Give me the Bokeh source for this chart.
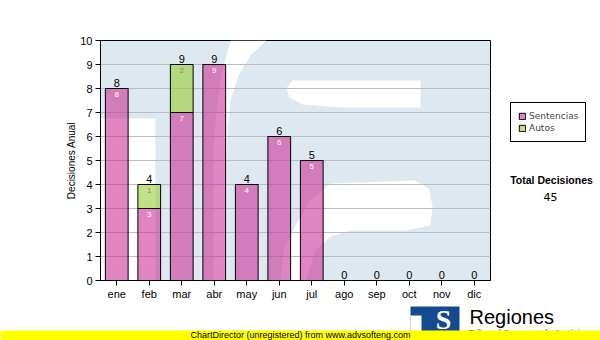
from bokeh.plotting import figure
from bokeh.layouts import row, column
from bokeh.models import (FactorRange, Range1d, SingleIntervalTicker, ColumnDataSource,
                          Legend, LegendItem)
from bokeh.core.properties import value
from bokeh.embed import file_html
from bokeh.resources import INLINE

# ---- data ----
months = ["ene", "feb", "mar", "abr", "may", "jun", "jul", "ago", "sep", "oct", "nov", "dic"]
sentencias = [8, 3, 7, 9, 4, 6, 5, 0, 0, 0, 0, 0]
autos = [0, 1, 2, 0, 0, 0, 0, 0, 0, 0, 0, 0]
series_names = ["Sentencias", "Autos"]
y_max = 10

totals = [s + a for s, a in zip(sentencias, autos)]
grand_total = sum(totals)

PINK = "#cc3399"
GREEN = "#99cc33"
FONT = "Liberation Sans"

# page geometry (px)
FL, FR, FT, FB = 100, 490, 40, 280
MAIN_W, TOP_H, W, H = 500, 302, 600, 340


def deco_fig(w, h, x0, x1, y0, y1):
    f = figure(width=w, height=h, x_range=Range1d(x0, x1), y_range=Range1d(y1, y0),
               output_backend="svg", toolbar_location=None,
               x_axis_location=None, y_axis_location=None, min_border=0)
    f.grid.visible = False
    f.outline_line_color = None
    f.background_fill_color = "white"
    f.border_fill_color = "white"
    return f


# ---------------- main chart ----------------
p = figure(width=MAIN_W, height=TOP_H, x_range=FactorRange(*months), y_range=Range1d(0, y_max),
           output_backend="svg", toolbar_location=None,
           min_border_left=FL, min_border_right=MAIN_W - FR, min_border_top=FT,
           min_border_bottom=TOP_H - FB)
p.background_fill_color = "#dee8f1"
p.border_fill_color = "white"
p.outline_line_color = "black"
p.outline_line_width = 1


def X(px):
    return (px - FL) / ((FR - FL) / len(months))


def Y(py):
    return (FB - py) / ((FB - FT) / y_max)


# watermark (white cut-outs on the light blue background)
shapes = [
    [(100, 118), (155, 118), (155, 280), (100, 280)],
    [(230, 40), (266, 40), (250, 55), (238, 75), (230, 100), (227, 130), (226, 160), (226, 280),
     (213, 280), (213, 150), (216, 110), (221, 75)],
    [(292, 80), (420, 80), (420, 107), (340, 107), (302, 104), (289, 97), (286, 88)],
    [(330, 183), (415, 180), (428, 188), (432, 205), (430, 225), (405, 230), (350, 230), (330, 236),
     (315, 250), (305, 280), (280, 280), (283, 250), (295, 225), (310, 200)],
]
p.patches([[X(a) for a, b in s] for s in shapes], [[Y(b) for a, b in s] for s in shapes],
          fill_color="white", line_color=None, level="image")

src = ColumnDataSource(dict(m=months, s=sentencias, a=autos))
rs = p.vbar_stack(["s", "a"], x="m", width=0.7, source=src,
                  fill_color=[PINK, GREEN], fill_alpha=0.6, line_color="black", line_width=1)

# totals above bars
p.text(x=months, y=totals, text=[str(t) for t in totals], text_align="center",
       text_baseline="bottom", y_offset=-2, text_font=value(FONT),
       text_font_size="11px", text_color="black")

# values inside segments
si = [i for i, v in enumerate(sentencias) if v > 0]
p.text(x=[months[i] for i in si], y=[sentencias[i] for i in si], text=[str(sentencias[i]) for i in si],
       text_align="center", text_baseline="top", y_offset=3, text_font=value(FONT),
       text_font_size="8px", text_color="white")
ai = [i for i, v in enumerate(autos) if v > 0]
p.text(x=[months[i] for i in ai], y=[totals[i] for i in ai], text=[str(autos[i]) for i in ai],
       text_align="center", text_baseline="top", y_offset=3, text_font=value(FONT),
       text_font_size="8px", text_color="#8a8a8a")

p.xgrid.visible = False
p.ygrid.grid_line_color = "#bcbcbc"
p.ygrid.grid_line_width = 1
p.yaxis.ticker = SingleIntervalTicker(interval=1)
for ax in (p.xaxis, p.yaxis):
    ax.minor_tick_line_color = None
    ax.major_tick_in = 0
    ax.major_tick_out = 5
    ax.major_tick_line_color = "black"
    ax.axis_line_color = "black"
    ax.major_label_text_font = FONT
    ax.major_label_text_font_size = "11px"
    ax.major_label_text_color = "black"
    ax.major_label_standoff = 3
p.xaxis.major_label_standoff = 2
p.yaxis.axis_label = "Decisiones Anual"
p.yaxis.axis_label_text_font = FONT
p.yaxis.axis_label_text_font_size = "10px"
p.yaxis.axis_label_text_font_style = "normal"
p.yaxis.axis_label_text_color = "black"
p.yaxis.axis_label_standoff = 0

# ---------------- right side: legend + total ----------------
r = deco_fig(W - MAIN_W, TOP_H, MAIN_W, W, 0, TOP_H)
# legend-only renderers (hidden; they only supply the swatch styles)
d1 = r.vbar(x=[550], top=[100], bottom=[90], width=1, fill_color=PINK, fill_alpha=0.6,
            line_color="black", visible=False)
d2 = r.vbar(x=[550], top=[100], bottom=[90], width=1, fill_color=GREEN, fill_alpha=0.6,
            line_color="black", visible=False)
legend = Legend(items=[LegendItem(label=series_names[0], renderers=[d1]),
                       LegendItem(label=series_names[1], renderers=[d2])],
                location=(10, 138), orientation="vertical",
                border_line_color="black", border_line_width=1, border_line_alpha=1.0,
                background_fill_color="white", background_fill_alpha=1.0,
                inactive_fill_alpha=0.0,
                label_text_font="DejaVu Sans", label_text_font_size="9px",
                glyph_width=8, glyph_height=8, label_standoff=3, padding=7, spacing=0,
                label_height=12, margin=0)
r.add_layout(legend)
r.text(x=[551], y=[183.5], text=["Total Decisiones"], text_align="center", text_baseline="bottom",
       text_font=value(FONT), text_font_style="bold", text_font_size="10.5px", text_color="black")
r.text(x=[550], y=[202.5], text=[str(grand_total)], text_align="center", text_baseline="bottom",
       text_font=value("DejaVu Sans"), text_font_size="11px", text_color="black")

# ---------------- bottom: logo + banner ----------------
b = deco_fig(W, H - TOP_H, 0, W, TOP_H, H)
b.quad(left=[410], right=[459], top=[306], bottom=[333], fill_color="#164a8e", line_color=None)
b.quad(left=[410], right=[421], top=[315], bottom=[333], fill_color="white", line_color=None)
b.text(x=[443], y=[334], text=["S"], text_align="center", text_baseline="bottom",
       text_font=value("Liberation Serif"), text_font_style="bold", text_font_size="28px",
       text_color="white")
b.text(x=[469], y=[327], text=["Regiones"], text_align="left", text_baseline="bottom",
       text_font=value(FONT), text_font_size="20px", text_color="black")
b.text(x=[468], y=[337], text=["Tribunal Supremo de Justicia"], text_align="left",
       text_baseline="bottom", text_font=value(FONT), text_font_size="9px", text_color="#333333")
b.quad(left=[0], right=[W], top=[330], bottom=[H + 1], fill_color="#ffff00", line_color=None)
b.text(x=[190], y=[339.5], text=["ChartDirector (unregistered) from www.advsofteng.com"],
       text_align="left", text_baseline="bottom", text_font=value(FONT),
       text_font_size="9px", text_color="black")

layout = column(row(p, r, spacing=0), b, spacing=0)
open("out.html", "w").write(file_html(layout, INLINE))
